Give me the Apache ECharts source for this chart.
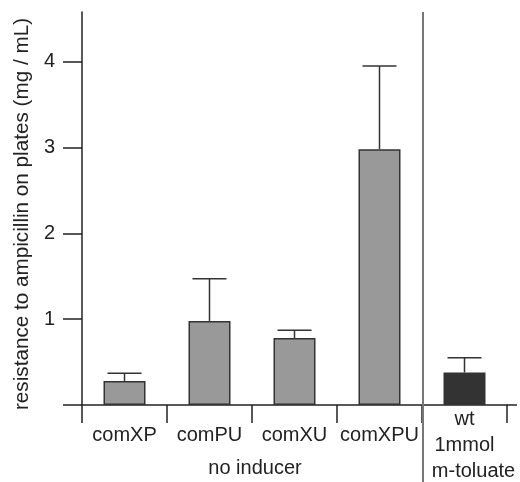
<!DOCTYPE html>
<html>
<head>
<meta charset="utf-8">
<script src="https://cdn.jsdelivr.net/npm/echarts@6/dist/echarts.min.js"></script>
<style>html,body{margin:0;padding:0;background:#fff}#main{width:520px;height:482px}</style>
</head>
<body>
<div id="main"></div>
<script>
var categories = ['comXP', 'comPU', 'comXU', 'comXPU', 'wt\n1mmol\nm-toluate'];
var values = [0.28, 0.98, 0.78, 2.98, 0.38];
var errors = [0.09, 0.49, 0.09, 0.97, 0.17];
var barColors = ['#999999', '#999999', '#999999', '#999999', '#333333'];
var yTickValues = [0, 1, 2, 3, 4];
var yLabelValues = [1, 2, 3, 4];
var yTitle = 'resistance to ampicillin on plates (mg / mL)';
var groupLabel = 'no inducer';

var FONT = '"Liberation Sans", Arial, Helvetica, sans-serif';
var TXT = '#222';

var chart = echarts.init(document.getElementById('main'), null, {renderer: 'canvas'});

var barData = values.map(function (v, i) {
  return {value: v, itemStyle: {color: barColors[i]}};
});
var errData = values.map(function (v, i) { return [i, v, v + errors[i]]; });

var option = {
  animation: false,
  grid: {left: 82, right: 13, top: 12, bottom: 77},
  xAxis: {
    type: 'category',
    data: categories,
    boundaryGap: true,
    axisLine: {lineStyle: {color: '#222', width: 1.5}},
    axisTick: {show: true, interval: 0, length: 18, lineStyle: {color: '#222', width: 1.5}},
    axisLabel: {
      interval: 0,
      margin: 1,
      formatter: function (v, i) {
        if (v.indexOf('\n') >= 0) {
          var parts = v.split('\n');
          return '{b|' + parts[0] + '}\n{b|' + parts[1] + '}\n{c|' + parts[2] + '}';
        }
        return '{a|' + v + '}';
      },
      rich: {
        a: {fontSize: 20, lineHeight: 58, fontFamily: FONT, color: TXT},
        b: {fontSize: 20, lineHeight: 26, fontFamily: FONT, color: TXT},
        c: {fontSize: 20, lineHeight: 26, fontFamily: FONT, color: TXT, padding: [0, 0, 0, 18]}
      }
    }
  },
  yAxis: {
    type: 'value',
    min: 0,
    max: 4.58,
    interval: 1,
    name: yTitle,
    nameLocation: 'middle',
    nameGap: 46,
    nameTextStyle: {fontSize: 20.7, fontFamily: FONT, color: TXT, padding: [0, 11, 0, 0]},
    axisLine: {show: true, lineStyle: {color: '#222', width: 1.5}},
    axisTick: {show: true, length: 19, customValues: yTickValues, lineStyle: {color: '#222', width: 1.5}},
    axisLabel: {customValues: yLabelValues, margin: 27, fontSize: 20, fontFamily: FONT, color: TXT},
    splitLine: {show: false}
  },
  series: [
    {
      type: 'bar',
      data: barData,
      barWidth: 42,
      itemStyle: {borderColor: '#333', borderWidth: 1.5}
    },
    {
      type: 'custom',
      data: errData,
      z: 1,
      renderItem: function (params, api) {
        var p0 = api.coord([api.value(0), api.value(1)]);
        var p1 = api.coord([api.value(0), api.value(2)]);
        var hw = 17;
        var st = {stroke: '#333', lineWidth: 1.5};
        return {
          type: 'group',
          children: [
            {type: 'line', shape: {x1: p0[0], y1: p0[1], x2: p1[0], y2: p1[1]}, style: st},
            {type: 'line', shape: {x1: p1[0] - hw, y1: p1[1], x2: p1[0] + hw, y2: p1[1]}, style: st}
          ]
        };
      }
    }
  ]
};
chart.setOption(option);

// decorations positioned from the axis scales
var c3 = chart.convertToPixel({xAxisIndex: 0}, categories[3]);
var c4 = chart.convertToPixel({xAxisIndex: 0}, categories[4]);
var c1 = chart.convertToPixel({xAxisIndex: 0}, categories[1]);
var c2 = chart.convertToPixel({xAxisIndex: 0}, categories[2]);
var band = c4 - c3;
var sepX = (c3 + c4) / 2;
var baseY = chart.convertToPixel({yAxisIndex: 0}, 0);
var rightEnd = c4 + band / 2;
chart.setOption({
  graphic: [
    {type: 'line', shape: {x1: sepX + 1, y1: 12, x2: sepX + 1, y2: 482}, style: {stroke: '#777', lineWidth: 2}, z: 10},
    {type: 'line', shape: {x1: rightEnd, y1: baseY, x2: rightEnd + 10, y2: baseY}, style: {stroke: '#222', lineWidth: 1.5}},
    {type: 'text', x: (c1 + c2) / 2 + 3, y: 468, style: {text: groupLabel, font: '20px ' + FONT, fill: TXT, textAlign: 'center', textVerticalAlign: 'middle'}}
  ]
});
</script>
</body>
</html>
